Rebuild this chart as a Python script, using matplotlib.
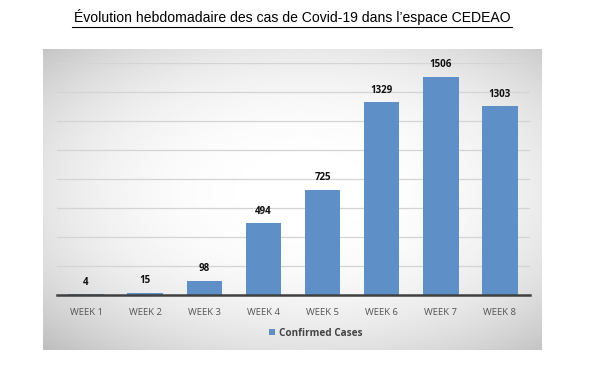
import numpy as np
import matplotlib.pyplot as plt

# data
weeks = ['WEEK 1', 'WEEK 2', 'WEEK 3', 'WEEK 4', 'WEEK 5', 'WEEK 6', 'WEEK 7', 'WEEK 8']
cases = [4, 15, 98, 494, 725, 1329, 1506, 1303]

W, H = 591, 365
fig = plt.figure(figsize=(W/100, H/100), dpi=100)
fig.patch.set_facecolor('white')

# grey panel with radial gradient (light centre, grey corners)
px0, px1, py0, py1 = 43, 542, 49, 350
bg = fig.add_axes([px0/W, 1-py1/H, (px1-px0)/W, (py1-py0)/H])
gx, gy = np.meshgrid(np.linspace(-1, 1, 400), np.linspace(-1, 1, 250))
r = np.sqrt(((gx-0.05)/1.0)**2 + ((gy+0.05)/0.95)**2)
shade = np.clip(1.0 - 0.09*r**2.5, 0.74, 1.0)
bg.imshow(shade, cmap='gray', vmin=0, vmax=1, aspect='auto', extent=[0, 1, 0, 1])
bg.set_axis_off()

# plot area
ax0, ax1, ay0, ay1 = 56.5, 529.5, 63, 295
ax = fig.add_axes([ax0/W, 1-ay1/H, (ax1-ax0)/W, (ay1-ay0)/H])
ax.patch.set_alpha(0)
x = np.arange(len(weeks))
ax.bar(x, cases, width=0.6, color='#5f8fc7', zorder=3, label='Confirmed Cases')
ax.set_xlim(-0.5, len(weeks)-0.5)
ax.set_ylim(0, 1600)
ax.set_yticks(np.arange(0, 1601, 200))
ax.yaxis.grid(True, color='#d4d4d4', linewidth=0.9, zorder=0)
ax.tick_params(left=False, labelleft=False, bottom=False)
for s in ['top', 'right', 'left']:
    ax.spines[s].set_visible(False)
ax.spines['bottom'].set_color('#404040')
ax.spines['bottom'].set_linewidth(1.8)
ax.spines['bottom'].set_zorder(4)
ax.set_xticks(x)
ax.set_xticklabels(weeks, fontsize=6.8, color='#555555', family='Open Sans')
ax.tick_params(axis='x', pad=6)

for xi, v in zip(x, cases):
    ax.text(xi, v + 45, str(v), ha='center', va='bottom', fontsize=7,
            fontweight='bold', family='Open Sans', color='#111111')

leg = fig.legend(loc='center', bbox_to_anchor=(316/W, 1-333/H), frameon=False,
                 handlelength=0.6, handleheight=0.6, handletextpad=0.4,
                 prop={'family': 'Open Sans', 'weight': 'bold', 'size': 7.2})
for t in leg.get_texts():
    t.set_color('#444444')

fig.text(292/W, 1-17/H, 'Évolution hebdomadaire des cas de Covid-19 dans l\u2019espace CEDEAO',
         ha='center', va='center', fontsize=10.1, family='Liberation Sans', color='black')
# underline
fig.add_artist(plt.Line2D([72/W, 512/W], [1-26.5/H, 1-26.5/H], color='black', linewidth=0.8))

fig.savefig('out.png', dpi=100)
